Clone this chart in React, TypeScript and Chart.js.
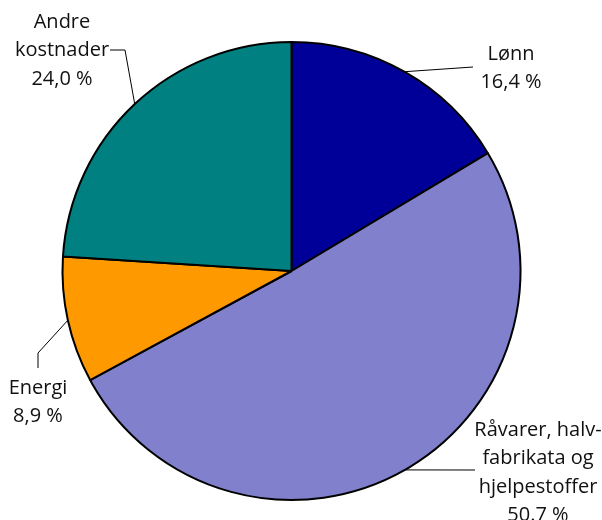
import React, { useEffect, useRef } from "react";
import { Chart, registerables } from "chart.js";

Chart.register(...registerables);

const categories = ["Lønn", "Råvarer, halv-\nfabrikata og\nhjelpestoffer", "Energi", "Andre\nkostnader"];
const values = [16.4, 50.7, 8.9, 24.0];
const valueLabels = ["16,4 %", "50.7 %", "8,9 %", "24,0 %"];
const colors = ["#000099", "#8080CC", "#FF9900", "#008080"];

// label placement (elbow points of leader lines, text anchor x and first baseline)
const labelLayout = [
  { pts: [[473, 67]], tx: 511, ty: 60 },
  { pts: [[475, 470]], tx: 538, ty: 436 },
  { pts: [[38, 353], [38, 368]], tx: 38, ty: 394 },
  { pts: [[125, 50], [110, 50]], tx: 62, ty: 28 },
];

const FONT = '20px "Open Sans", sans-serif';
const LINE_H = 28.3;

const labelPlugin = {
  id: "pieLabels",
  afterDraw(chart: any) {
    const ctx = chart.ctx;
    const meta = chart.getDatasetMeta(0);
    ctx.save();
    meta.data.forEach((arc: any, i: number) => {
      const p = arc.getProps(["x", "y", "startAngle", "endAngle", "outerRadius"], true);
      const mid = (p.startAngle + p.endAngle) / 2;
      const sx = p.x + Math.cos(mid) * p.outerRadius;
      const sy = p.y + Math.sin(mid) * p.outerRadius;
      const lay = labelLayout[i];
      ctx.beginPath();
      ctx.strokeStyle = "#000";
      ctx.lineWidth = 1;
      ctx.moveTo(sx, sy);
      lay.pts.forEach(([px, py]) => ctx.lineTo(px, py));
      ctx.stroke();
      const lines = categories[i].split("\n").concat([valueLabels[i]]);
      ctx.fillStyle = "#111";
      ctx.font = FONT;
      ctx.textAlign = "center";
      ctx.textBaseline = "alphabetic";
      lines.forEach((t, k) => ctx.fillText(t, lay.tx, lay.ty + k * LINE_H));
    });
    ctx.restore();
  },
};

export default function App() {
  const ref = useRef<HTMLCanvasElement | null>(null);
  useEffect(() => {
    if (!ref.current) return;
    const chart = new Chart(ref.current, {
      type: "pie",
      data: {
        labels: categories,
        datasets: [
          {
            data: values,
            backgroundColor: colors,
            borderColor: "#000",
            borderWidth: 2,
            radius: 229,
          } as any,
        ],
      },
      options: {
        responsive: false,
        animation: false,
        layout: { padding: { left: 40, right: 59, top: 30, bottom: 8 } },
        plugins: { legend: { display: false }, tooltip: { enabled: false } },
      },
      plugins: [labelPlugin],
    });
    return () => chart.destroy();
  }, []);
  return (
    <div style={{ position: "absolute", left: 0, top: 0, width: 602, height: 520, background: "#fff" }}>
      <canvas ref={ref} width={602} height={520} />
    </div>
  );
}
